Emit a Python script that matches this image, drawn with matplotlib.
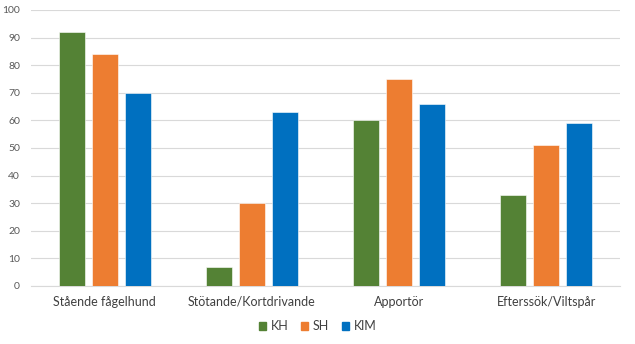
import matplotlib.pyplot as plt
import numpy as np
from matplotlib.patches import Patch

# Data
categories = ["Stående fågelhund", "Stötande/Kortdrivande", "Apportör", "Efterssök/Viltspår"]
series_names = ["KH", "SH", "KlM"]
kh = [92, 7, 60, 33]
sh = [84, 30, 75, 51]
klm = [70, 63, 66, 59]
colors = ["#548235", "#ED7D31", "#0070C0"]

plt.rcParams.update({"font.family": ["Lato", "DejaVu Sans"]})

fig = plt.figure(figsize=(6.35, 3.44), dpi=100)
ax = fig.add_axes([0.049, 0.169, 0.927, 0.802])

x = np.arange(len(categories))
width = 0.177
step = 0.224
for i, (vals, c) in enumerate(zip([kh, sh, klm], colors)):
    ax.bar(x + (i - 1) * step, vals, width, color=c, edgecolor="#ffffff", linewidth=0.4, zorder=3)

ax.set_xlim(-0.5, len(categories) - 0.5)
ax.set_ylim(0, 100)
ax.set_yticks(np.arange(0, 101, 10))
ax.yaxis.grid(True, color="#D9D9D9", linewidth=0.8, zorder=0)
ax.set_xticks(x)
ax.set_xticklabels(categories, fontsize=9, color="#404040")
ax.tick_params(axis="y", labelsize=7.5, labelcolor="#595959", length=0, pad=8)
ax.tick_params(axis="x", length=0, pad=7)
for s in ["top", "right", "left"]:
    ax.spines[s].set_visible(False)
ax.spines["bottom"].set_color("#D9D9D9")

handles = [Patch(color=c, label=n) for c, n in zip(colors, series_names)]
fig.legend(
    handles=handles,
    loc="center",
    bbox_to_anchor=(0.5, 0.052),
    ncol=3,
    frameon=False,
    fontsize=9,
    handlelength=0.6,
    handleheight=0.6,
    handletextpad=0.35,
    columnspacing=1.0,
    labelcolor="#404040",
)

fig.savefig("out.png", dpi=100)
